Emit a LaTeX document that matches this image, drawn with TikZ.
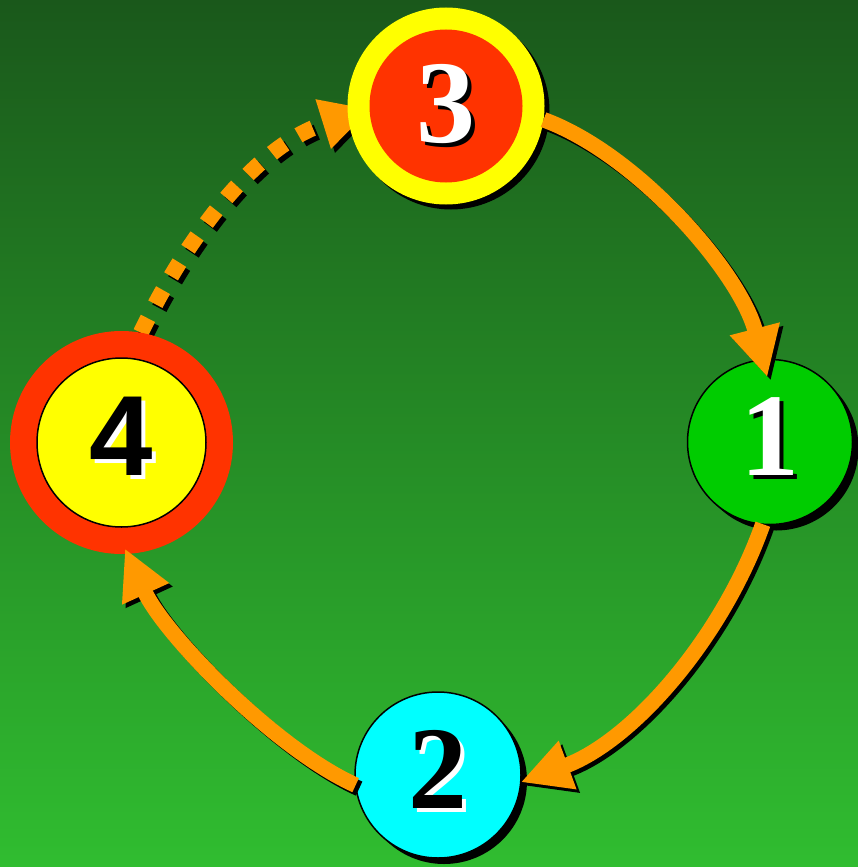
\documentclass[tikz,border=0pt]{standalone}
\usepackage{fontspec}
\usepackage{tikz}
\usetikzlibrary{arrows.meta,shadows,backgrounds}
\newfontfamily\numserif{Liberation Serif}
\newfontfamily\numsans{Liberation Sans}
\definecolor{BgTop}{HTML}{1A581B}
\definecolor{BgBottom}{HTML}{30BD30}
\definecolor{RingRed}{HTML}{FF3300}
\definecolor{DiscYellow}{HTML}{FFFF00}
\definecolor{DiscGreen}{HTML}{00CC00}
\definecolor{DiscCyan}{HTML}{00FFFF}
\definecolor{FlowOrange}{HTML}{FF9900}
\newcommand{\castnum}[4][33pt]{\raisebox{-#1}[0pt][0pt]{\rlap{\kern4pt\raisebox{-4pt}{\color{#3}#4}}\color{#2}#4}}
\tikzset{
  disc/.style={circle,inner sep=0pt,outer sep=0pt},
  edged/.style={draw=black,line width=1.5pt},
  castshadow/.style={drop shadow={shadow xshift=#1,shadow yshift=-#1,opacity=1,fill=black}},
  castshadow/.default=6pt,
  serifnum/.style={font=\numserif\bfseries\fontsize{118pt}{118pt}\selectfont},
  sansnum/.style={font=\numsans\bfseries\fontsize{114pt}{114pt}\selectfont},
  flow/.style={line width=15.5pt,-{Triangle[length=50pt,width=48pt]}},
  dottedflow/.style={flow,line width=16pt,dash pattern=on 16pt off 16pt}
}

\begin{document}
\begin{tikzpicture}[x=1pt,y=-1pt]
  \useasboundingbox (0,0) rectangle (858,867);

  \node[disc,minimum size=197pt,fill=DiscYellow,castshadow=5pt] (ring3) at (446,106) {};
  \node[disc,minimum size=153pt,fill=RingRed,serifnum] (n3) at (ring3) {\castnum[36pt]{white}{black}{3}};
  \node[disc,minimum size=165pt,fill=DiscGreen,edged,castshadow,serifnum] (n1) at (770,442) {\castnum{white}{black}{1}};
  \node[disc,minimum size=166pt,fill=DiscCyan,edged,castshadow,serifnum] (n2) at (438,775) {\castnum{black}{white}{2}};
  \node[disc,minimum size=223pt,fill=RingRed] (ring4) at (121.5,442.5) {};
  \node[disc,minimum size=169pt,fill=DiscYellow,edged,sansnum] (n4) at (ring4) {\castnum{black}{white}{4}};

  \foreach \off/\ink in {3.5pt/black,0pt/FlowOrange} {
    \draw[flow,draw=\ink,transform canvas={shift={(\off,-\off)}},shorten >=-18pt]
      (ring3.-8) .. controls (637,154) and (740,272) .. (n1.95);
    \draw[flow,draw=\ink,transform canvas={shift={(\off,-\off)}}]
      (n1.-95) .. controls (723,637) and (633,741) .. (n2.-5);
    \draw[flow,draw=\ink,transform canvas={shift={(\off,-\off)}},shorten >=-6pt]
      (n2.187) .. controls (275,749) and (164,634) .. (ring4.-87);
  }

  \begin{scope}[on background layer]
    \shade[top color=BgTop,bottom color=BgBottom] (0,0) rectangle (858,867);
    \foreach \off/\ink in {4pt/black,0pt/FlowOrange}
      \draw[dottedflow,draw=\ink,transform canvas={shift={(\off,-\off)}},shorten >=-24pt]
        (ring4.80) .. controls (184,243) and (253,146) .. (ring3.186);
  \end{scope}
\end{tikzpicture}
\end{document}
